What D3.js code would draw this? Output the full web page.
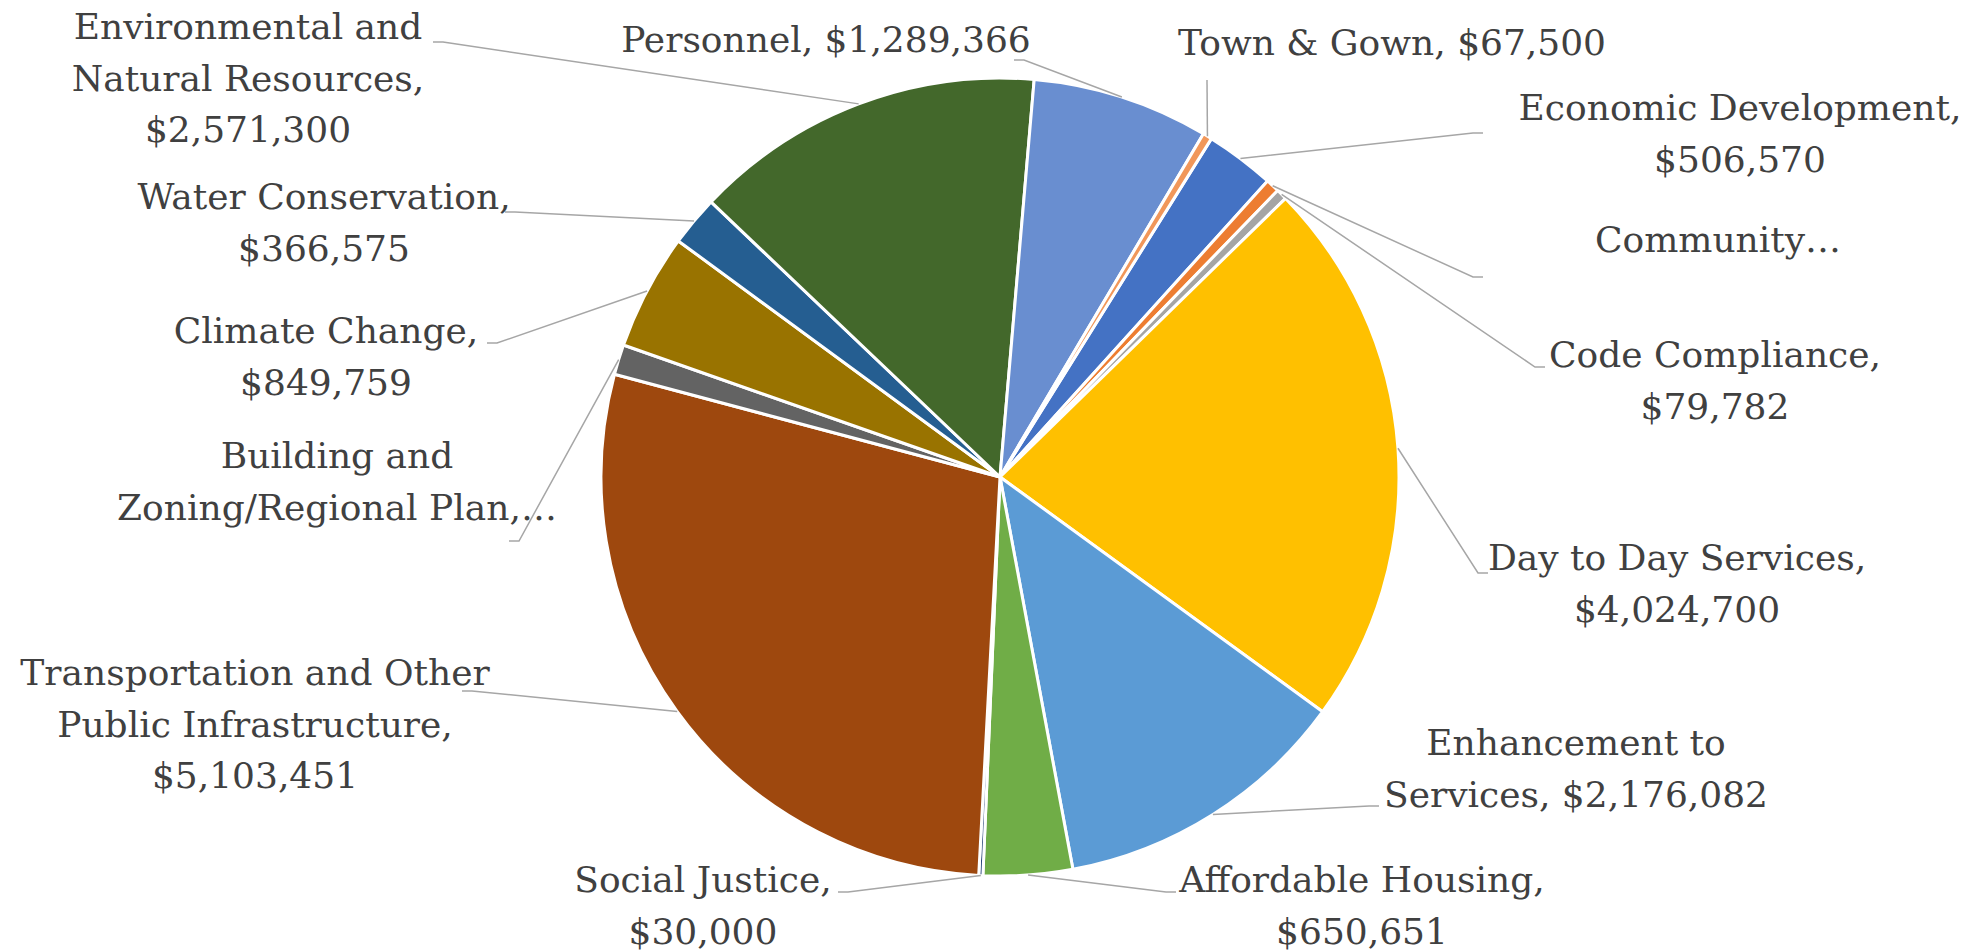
<!DOCTYPE html>
<html>
<head>
<meta charset="utf-8">
<script src="https://cdn.jsdelivr.net/npm/d3@7"></script>
<style>
  body { margin: 0; background: #fff; }
  .label { font-family: "DejaVu Serif", serif; font-size: 36px; fill: #404040; }
</style>
</head>
<body>
<div id="wrapper"></div>
<script>
// data, in the order the slices are drawn (clockwise from the first slice)
const categories = [
  "Economic Development", "Community", "Code Compliance", "Day to Day Services",
  "Enhancement to Services", "Affordable Housing", "Social Justice",
  "Transportation and Other Public Infrastructure", "Building and Zoning/Regional Plan",
  "Climate Change", "Water Conservation", "Environmental and Natural Resources",
  "Personnel", "Town & Gown"
];
const values = [
  506570, 100000, 79782, 4024700, 2176082, 650651, 30000,
  5103451, 220000, 849759, 366575, 2571300, 1289366, 67500
];
// label text as Excel wrapped it, {v} = formatted value
const labelText = [
  ["Economic Development,", "{v}"],
  ["Community…"],
  ["Code Compliance,", "{v}"],
  ["Day to Day Services,", "{v}"],
  ["Enhancement to", "Services, {v}"],
  ["Affordable Housing,", "{v}"],
  ["Social Justice,", "{v}"],
  ["Transportation and Other", "Public Infrastructure,", "{v}"],
  ["Building and", "Zoning/Regional Plan,…"],
  ["Climate Change,", "{v}"],
  ["Water Conservation,", "{v}"],
  ["Environmental and", "Natural Resources,", "{v}"],
  ["Personnel, {v}"],
  ["Town & Gown, {v}"]
];
const colors = [
  "#4472C4", "#ED7D31", "#A5A5A5", "#FFC000", "#5B9BD5", "#70AD47", "#264478",
  "#9E480E", "#636363", "#997300", "#255E91", "#43682B", "#698ED0", "#F1975A"
];

// label placement: centre x, first baseline, leader attach point, tail direction
const labelLayout = [
  [1740, 120, 1483, 133, -1],
  [1718, 252, 1483, 277, -1],
  [1715, 367, 1545, 367, -1],
  [1677, 570, 1488, 573, -1],
  [1576, 755, 1379, 806, -1],
  [1362, 892, 1176, 892, -1],
  [703, 892, 838, 892, 1],
  [255, 685, 462, 691, 1],
  [337, 468, 509, 541, 1],
  [326, 343, 487, 343, 1],
  [324, 209, 505, 212, 1],
  [248, 39, 433, 42, 1],
  [826, 52, 1014, 60, 1],
  [1392, 55, 1207, 80, 0]
];

function drawPie() {
  const width = 1988;
  const height = 951;
  const cx = 1000, cy = 477, radius = 399;
  const lineHeight = 51.5;
  const firstAngle = 32 * Math.PI / 180;
  const fmt = d3.format("$,");

  const dataset = categories.map((c, i) => ({ name: c, value: values[i], i }));

  const svg = d3.select("#wrapper")
    .append("svg")
    .attr("width", width)
    .attr("height", height);

  const bounds = svg.append("g")
    .attr("transform", `translate(${cx},${cy})`);

  const pie = d3.pie()
    .sort(null)
    .value(d => d.value)
    .startAngle(firstAngle)
    .endAngle(firstAngle + 2 * Math.PI);

  const arcs = pie(dataset);
  const arc = d3.arc().innerRadius(0).outerRadius(radius);

  bounds.selectAll(".slice")
    .data(arcs)
    .join("path")
    .attr("class", "slice")
    .attr("d", arc)
    .attr("fill", d => colors[d.data.i])
    .attr("stroke", "#fff")
    .attr("stroke-width", 3)
    .attr("stroke-linejoin", "round");

  // leader lines: label -> short tail -> rim at slice mid angle
  const leaders = svg.append("g");
  arcs.forEach(d => {
    const [lx, ly, ax, ay, dir] = labelLayout[d.data.i];
    const mid = (d.startAngle + d.endAngle) / 2;
    const rx = cx + radius * Math.sin(mid);
    const ry = cy - radius * Math.cos(mid);
    const pts = [[ax, ay]];
    if (dir !== 0) pts.push([ax + dir * 10, ay]);
    pts.push([rx, ry]);
    leaders.append("path")
      .attr("d", d3.line()(pts))
      .attr("fill", "none")
      .attr("stroke", "#A6A6A6")
      .attr("stroke-width", 1.5);
  });

  // labels
  const labels = svg.append("g");
  dataset.forEach(d => {
    const [lx, ly] = labelLayout[d.i];
    const t = labels.append("text")
      .attr("class", "label")
      .attr("text-anchor", "middle")
      .attr("x", lx)
      .attr("y", ly);
    labelText[d.i].forEach((line, k) => {
      t.append("tspan")
        .attr("x", lx)
        .attr("dy", k === 0 ? 0 : lineHeight)
        .text(line.replace("{v}", fmt(d.value)));
    });
  });
}

drawPie();
</script>
</body>
</html>
